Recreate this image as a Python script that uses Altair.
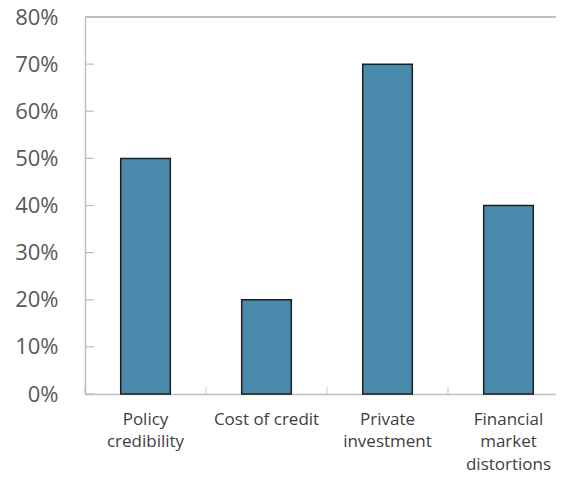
import altair as alt
import pandas as pd

categories = ["Policy\ncredibility", "Cost of credit", "Private\ninvestment", "Financial\nmarket\ndistortions"]
values = [0.50, 0.20, 0.70, 0.40]
y_ticks = [0.0, 0.1, 0.2, 0.3, 0.4, 0.5, 0.6, 0.7, 0.8]

df = pd.DataFrame({"cat": categories, "val": values})
ticks_df = pd.DataFrame({"v": y_ticks})

axis_gray = "#BFBFBF"
font = "Open Sans"

xscale = alt.Scale(paddingInner=0, paddingOuter=0, range=[0, 484])
xenc = alt.X("cat:N", sort=categories, scale=xscale,
             axis=alt.Axis(title=None, labelAngle=0, ticks=False, domainColor=axis_gray, domainWidth=1.5,
                           labelPadding=17, labelFontSize=17, labelColor="#404040", labelFont=font,
                           labelLineHeight=22.5, labelExpr="split(datum.label, '\\n')"))
yscale = alt.Scale(domain=[0, 0.8])

bars = alt.Chart(df).mark_bar(width=alt.RelativeBandSize(0.41), color="#4A8BAD", stroke="#1E1E1E", strokeWidth=1.5).encode(
    x=xenc,
    y=alt.Y("val:Q", scale=yscale,
            axis=alt.Axis(title=None, values=y_ticks, format=".0%", ticks=False, grid=False,
                          domainColor=axis_gray, domainWidth=1.5, labelPadding=27, labelFontSize=22,
                          labelColor="#595959", labelFont=font)),
)

top_line = alt.Chart(df).mark_rule(color=axis_gray, strokeWidth=1.5).encode(y=alt.datum(0.8, scale=yscale))

xticks = alt.Chart(df).mark_tick(orient="vertical", size=7, yOffset=-3.5, thickness=1.2, color=axis_gray).encode(
    x=alt.X("cat:N", sort=categories, bandPosition=0),
    y=alt.datum(0, scale=yscale),
)

yticks = alt.Chart(ticks_df).mark_rule(strokeWidth=1.2, color=axis_gray).encode(
    x=alt.value(0),
    x2=alt.value(9),
    y=alt.Y("v:Q", scale=yscale),
)

chart = alt.layer(bars, top_line, xticks, yticks).properties(
    width=471, height=377, padding={"left": 6, "top": -2, "right": -13, "bottom": 0}
).configure_view(stroke=None)

chart.save("out.html", embed_options={"renderer": "svg", "actions": False})
